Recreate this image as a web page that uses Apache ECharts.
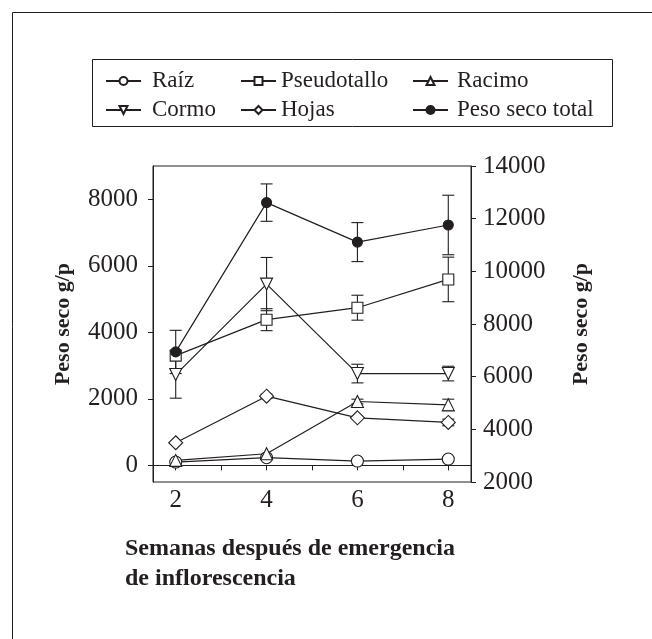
<!DOCTYPE html>
<html>
<head>
<meta charset="utf-8">
<script src="https://cdn.jsdelivr.net/npm/echarts@6/dist/echarts.min.js"></script>
<style>
html, body { margin: 0; padding: 0; background: #fff; }
#chart { width: 652px; height: 639px; }
</style>
</head>
<body>
<div id="chart"></div>
<script>
// semanas despues de emergencia de inflorescencia
var weeks = [2, 4, 6, 8];
var xTicks = [2, 3, 4, 5, 6, 7, 8];
var xLabels = [2, 4, 6, 8];
var leftTicks = [0, 2000, 4000, 6000, 8000];

// peso seco g/p (eje izquierdo)
var raiz = [100, 230, 130, 190];
var raizErr = [0, 0, 0, 0];
var pseudotallo = [3300, 4380, 4740, 5590];
var pseudotalloErr = [0, 330, 375, 670];
var racimo = [150, 350, 1920, 1820];
var racimoErr = [0, 0, 70, 170];
var cormo = [2730, 5450, 2760, 2760];
var cormoErr = [710, 800, 280, 220];
var hojas = [680, 2080, 1430, 1290];
var hojasErr = [0, 60, 0, 100];
// eje derecho
var total = [6940, 12610, 11110, 11760];
var totalErr = [820, 710, 740, 1130];

var ink = '#231f20';
var font = '"Liberation Serif", "DejaVu Serif", serif';

function pts(vals) {
	return weeks.map(function(w, i){ return [w, vals[i]]; });
}
function errPts(vals, errs) {
	var out = [];
	weeks.forEach(function(w, i){ if (errs[i] > 0) out.push([w, vals[i], errs[i]]); });
	return out;
}
function plain(v) { return String(v); }

function errorBars(vals, errs, axis) {
	return {
		type: 'custom',
		yAxisIndex: axis,
		z: 1,
		silent: true,
		data: errPts(vals, errs),
		renderItem: function(params, api){
			var x = api.value(0), y = api.value(1), e = api.value(2);
			var hi = api.coord([x, y + e]);
			var lo = api.coord([x, y - e]);
			var cap = 6;
			var st = { stroke: ink, lineWidth: 1.1 };
			return {
				type: 'group',
				children: [
					{ type: 'line', shape: { x1: hi[0], y1: hi[1], x2: lo[0], y2: lo[1] }, style: st },
					{ type: 'line', shape: { x1: hi[0] - cap, y1: hi[1], x2: hi[0] + cap, y2: hi[1] }, style: st },
					{ type: 'line', shape: { x1: lo[0] - cap, y1: lo[1], x2: lo[0] + cap, y2: lo[1] }, style: st }
				]
			};
		}
	};
}

function lineSeries(name, vals, symbol, size, filled, axis, rotate) {
	return {
		name: name,
		type: 'line',
		yAxisIndex: axis,
		z: 3,
		data: pts(vals),
		symbol: symbol,
		symbolSize: size,
		symbolRotate: rotate || 0,
		showAllSymbol: true,
		lineStyle: { color: ink, width: 1.2 },
		itemStyle: { color: filled ? ink : '#fff', borderColor: ink, borderWidth: 1.1 },
		emphasis: { disabled: true }
	};
}

function legendCol(left, names, pad) {
	return {
		orient: 'vertical',
		left: left,
		top: 69.5,
		padding: 0,
		itemWidth: 35,
		itemHeight: 10,
		itemGap: 6,
		data: names,
		selectedMode: false,
		textStyle: { fontFamily: font, fontSize: 23, color: ink, lineHeight: 21, padding: [0, 0, 0, pad] }
	};
}

var chart = echarts.init(document.getElementById('chart'), null, { renderer: 'canvas' });

chart.setOption({
	animation: false,
	backgroundColor: '#fff',
	graphic: [
		{ type: 'rect', shape: { x: 12.5, y: 12.5, width: 700, height: 700 }, style: { fill: 'none', stroke: ink, lineWidth: 1 }, silent: true },
		{ type: 'rect', shape: { x: 92.5, y: 59.5, width: 520, height: 67 }, style: { fill: 'none', stroke: ink, lineWidth: 1 }, silent: true },
		{
			type: 'text', left: 125, top: 534, silent: true,
			style: {
				text: 'Semanas después de emergencia\nde inflorescencia',
				font: 'bold 24px ' + font, fill: ink, lineHeight: 30, align: 'left'
			}
		}
	],
	legend: [
		legendCol(105, ['Raíz', 'Cormo'], 6),
		legendCol(240, ['Pseudotallo', 'Hojas'], 0),
		legendCol(412, ['Racimo', 'Peso seco total'], 4)
	],
	grid: {
		left: 153, right: 181, top: 166, bottom: 157,
		outerBoundsMode: 'none',
		containLabel: false,
		show: true, borderColor: ink, borderWidth: 1
	},
	xAxis: {
		type: 'value',
		min: 1.5,
		max: 8.5,
		splitLine: { show: false },
		axisLine: { lineStyle: { color: ink } },
		axisTick: { length: 5, lineStyle: { color: ink }, customValues: xTicks },
		axisLabel: { customValues: xLabels, formatter: plain, fontFamily: font, fontSize: 25, color: ink, margin: 6 }
	},
	yAxis: [
		{
			type: 'value',
			position: 'left',
			min: -500,
			max: 9000,
			splitLine: { show: false },
			axisLine: { show: true, lineStyle: { color: ink } },
			axisTick: { show: true, length: 5, lineStyle: { color: ink }, customValues: leftTicks },
			axisLabel: { customValues: leftTicks, formatter: plain, fontFamily: font, fontSize: 25, color: ink, margin: 15 },
			name: 'Peso seco g/p',
			nameLocation: 'middle',
			nameRotate: 90,
			nameGap: 79,
			nameMoveOverlap: false,
			nameTextStyle: { fontFamily: font, fontSize: 22, fontWeight: 'bold', color: ink }
		},
		{
			type: 'value',
			position: 'right',
			min: 2000,
			max: 14000,
			interval: 2000,
			splitLine: { show: false },
			axisLine: { show: true, lineStyle: { color: ink } },
			axisTick: { show: true, length: 5, lineStyle: { color: ink } },
			axisLabel: { formatter: plain, fontFamily: font, fontSize: 25, color: ink, margin: 12 },
			name: 'Peso seco g/p',
			nameLocation: 'middle',
			nameRotate: 90,
			nameGap: 99,
			nameTextStyle: { fontFamily: font, fontSize: 22, fontWeight: 'bold', color: ink }
		}
	],
	series: [
		errorBars(pseudotallo, pseudotalloErr, 0),
		errorBars(racimo, racimoErr, 0),
		errorBars(cormo, cormoErr, 0),
		errorBars(hojas, hojasErr, 0),
		errorBars(total, totalErr, 1),
		lineSeries('Raíz', raiz, 'circle', 12, false, 0),
		lineSeries('Pseudotallo', pseudotallo, 'rect', 11, false, 0),
		lineSeries('Racimo', racimo, 'triangle', 12, false, 0),
		lineSeries('Cormo', cormo, 'triangle', 12, false, 0, 180),
		lineSeries('Hojas', hojas, 'diamond', 14, false, 0),
		lineSeries('Peso seco total', total, 'circle', 10, true, 1)
	]
});
</script>
</body>
</html>
